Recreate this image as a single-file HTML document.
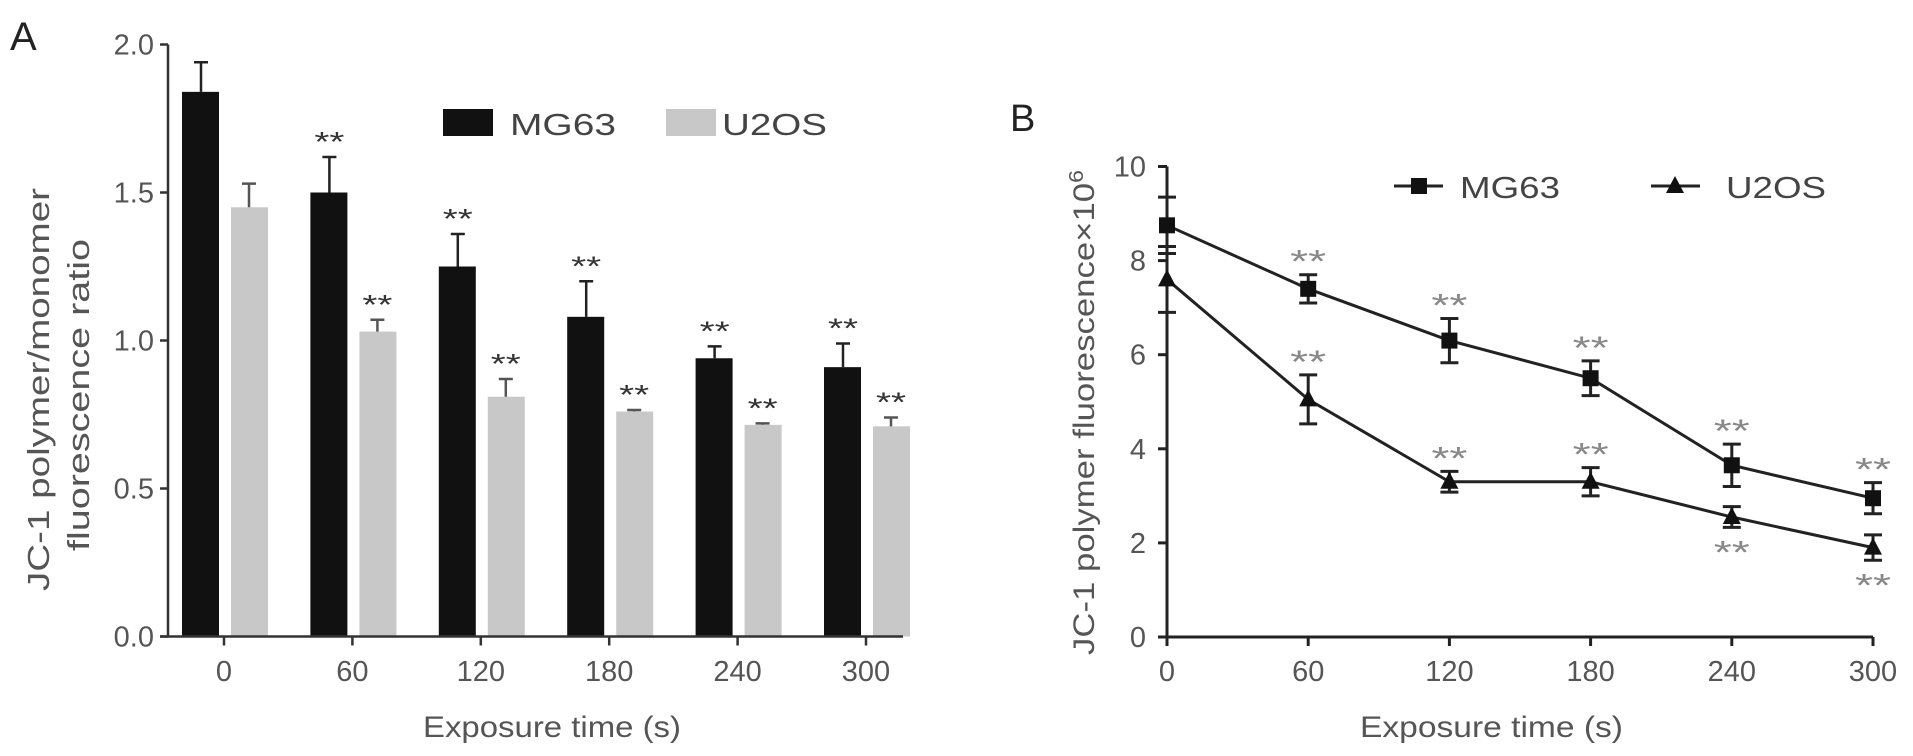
<!DOCTYPE html>
<html><head><meta charset="utf-8"><style>
html,body{margin:0;padding:0;background:#fff;}
svg{display:block;font-family:"Liberation Sans",sans-serif;}
</style></head><body>
<svg id="fig" width="1913" height="756" viewBox="0 0 1913 756"></svg>
<script>
// Panel A data
const catsA = [0, 60, 120, 180, 240, 300];
const mgA = [1.84, 1.50, 1.25, 1.08, 0.94, 0.91];
const mgAErr = [0.10, 0.12, 0.11, 0.12, 0.04, 0.08];
const uA = [1.45, 1.03, 0.81, 0.76, 0.715, 0.71];
const uAErr = [0.08, 0.04, 0.06, 0.005, 0.005, 0.03];
const yTicksA = [0, 0.5, 1.0, 1.5, 2.0];
const yTickLabelsA = ["0.0", "0.5", "1.0", "1.5", "2.0"];
const mgAStars = [false, true, true, true, true, true];
const uAStars = [false, true, true, true, true, true];
// Panel B data
const catsB = [0, 60, 120, 180, 240, 300];
const mgB = [8.75, 7.4, 6.3, 5.5, 3.65, 2.95];
const mgBErr = [0.6, 0.3, 0.47, 0.37, 0.45, 0.33];
const uB = [7.6, 5.05, 3.3, 3.3, 2.55, 1.9];
const uBErr = [0.7, 0.52, 0.22, 0.3, 0.22, 0.27];
const yTicksB = [0, 2, 4, 6, 8, 10];
const mgBStars = [false, true, true, true, true, true];
const uBStarsPos = ["", "above", "above", "above", "below", "below"];

const NS = "http://www.w3.org/2000/svg";
const svg = document.getElementById('fig');
function mk(tag, attrs, parent, text) {
  const e = document.createElementNS(NS, tag);
  for (const k in attrs) e.setAttribute(k, attrs[k]);
  if (text !== undefined) e.textContent = text;
  (parent || svg).appendChild(e);
  return e;
}
const AX = '#333';
// ---------- Panel A ----------
const gA = mk('g', {});


const xA = v => 224 + v / 60 * 128.4;
const yA = v => 636.5 - v * 296;
let t = mk('text', {x: 10, y: 50, 'font-size': 40, fill: '#222'}, gA, 'A');
 
catsA.forEach((c, i) => {
  const cx = xA(c);
  let top = yA(mgA[i]);
  let r = mk('rect', {x: cx - 42, y: top, width: 37, height: yA(0) - top, fill: '#111'}, gA);
   
  let et = yA(mgA[i] + mgAErr[i]);
  let l = mk('path', {d: `M${cx-23} ${top}V${et}M${cx-30} ${et}H${cx-16}`, stroke: '#222', 'stroke-width': 2.5, fill: 'none'}, gA);
   
  if (mgAStars[i]) { let s = mk('text', {x: cx - 38, y: et - 6, 'font-size': 28, textLength: 30, lengthAdjust: 'spacingAndGlyphs', fill: '#333'}, gA, '**');
      }
  top = yA(uA[i]);
  r = mk('rect', {x: cx + 7, y: top, width: 37, height: yA(0) - top, fill: '#c8c8c8'}, gA);
   
  et = yA(uA[i] + uAErr[i]);
  l = mk('path', {d: `M${cx+25} ${top}V${et}M${cx+18} ${et}H${cx+32}`, stroke: '#555', 'stroke-width': 2.5, fill: 'none'}, gA);
   
  if (uAStars[i]) { let s = mk('text', {x: cx + 10, y: et - 6, 'font-size': 28, textLength: 30, lengthAdjust: 'spacingAndGlyphs', fill: '#333'}, gA, '**');
      }
});
let a = mk('path', {d: `M168 ${yA(2)}V${yA(0)}M160 ${yA(0)}H903`, stroke: AX, 'stroke-width': 2.5, fill: 'none'}, gA);
 
yTicksA.forEach((v, i) => {
  mk('line', {x1: 160, x2: 168, y1: yA(v), y2: yA(v), stroke: AX, 'stroke-width': 2.5}, gA);
  const tx = mk('text', {x: 154, y: yA(v) + 10, 'font-size': 29, 'text-anchor': 'end', fill: '#555'}, gA, yTickLabelsA[i]);
   
});
catsA.forEach(c => {
  mk('line', {x1: xA(c), x2: xA(c), y1: yA(0), y2: yA(0) + 9, stroke: AX, 'stroke-width': 2.5}, gA);
  const tx = mk('text', {x: xA(c), y: 681, 'font-size': 29, 'text-anchor': 'middle', fill: '#555'}, gA, String(c));
   
});
t = mk('text', {x: 423, y: 737, 'font-size': 30, textLength: 258, lengthAdjust: 'spacingAndGlyphs', fill: '#555'}, gA, 'Exposure time (s)');
 
t = mk('text', {transform: 'translate(49,591) rotate(-90)', 'font-size': 31, textLength: 403, lengthAdjust: 'spacingAndGlyphs', fill: '#555'}, gA, 'JC-1 polymer/monomer');
 
t = mk('text', {transform: 'translate(89,551) rotate(-90)', 'font-size': 31, textLength: 312, lengthAdjust: 'spacingAndGlyphs', fill: '#555'}, gA, 'fluorescence ratio');
 
let lg = mk('g', {}, gA);  
mk('rect', {x: 443, y: 109, width: 50, height: 27, fill: '#111'}, lg);
mk('text', {x: 510, y: 135, 'font-size': 31, textLength: 106, lengthAdjust: 'spacingAndGlyphs', fill: '#444'}, lg, 'MG63');
mk('rect', {x: 666, y: 109, width: 50, height: 27, fill: '#c8c8c8'}, lg);
mk('text', {x: 722, y: 135, 'font-size': 31, textLength: 105, lengthAdjust: 'spacingAndGlyphs', fill: '#444'}, lg, 'U2OS');

// ---------- Panel B ----------
const gB = mk('g', {});


const xB = v => 1167 + v / 60 * 141.2;
const yB = v => 637 - v * 47.05;
t = mk('text', {x: 1010, y: 131, 'font-size': 38, fill: '#222'}, gB, 'B');
 
a = mk('path', {d: `M1167 ${yB(10)}V${yB(0)}H${xB(300)}`, stroke: '#222', 'stroke-width': 3, fill: 'none'}, gB);
 
yTicksB.forEach(v => {
  mk('line', {x1: 1158, x2: 1167, y1: yB(v), y2: yB(v), stroke: '#222', 'stroke-width': 3}, gB);
  const tx = mk('text', {x: 1146, y: yB(v) + 10, 'font-size': 29, 'text-anchor': 'end', fill: '#555'}, gB, String(v));
   
});
catsB.forEach(c => {
  mk('line', {x1: xB(c), x2: xB(c), y1: yB(0), y2: yB(0) + 9, stroke: '#222', 'stroke-width': 3}, gB);
  const tx = mk('text', {x: xB(c), y: 681, 'font-size': 29, 'text-anchor': 'middle', fill: '#555'}, gB, String(c));
   
});
t = mk('text', {x: 1360, y: 737, 'font-size': 30, textLength: 263, lengthAdjust: 'spacingAndGlyphs', fill: '#555'}, gB, 'Exposure time (s)');
 
t = mk('text', {transform: 'translate(1094,655) rotate(-90)', 'font-size': 30, textLength: 485, lengthAdjust: 'spacingAndGlyphs', fill: '#555'}, gB);
 
t.appendChild(document.createTextNode('JC-1 polymer fluorescence×10'));
mk('tspan', {dy: -11, 'font-size': 20}, t, '6');

function series(vals, errs, name, marker) {
  const g = mk('g', {}, gB);
   
  const d = vals.map((v, i) => (i ? 'L' : 'M') + xB(catsB[i]) + ' ' + yB(v)).join('');
  const p = mk('path', {d, stroke: '#222', 'stroke-width': 3, fill: 'none'}, g);
   
  vals.forEach((v, i) => {
    const x = xB(catsB[i]), y1 = yB(v + errs[i]), y2 = yB(v - errs[i]);
    const e = mk('path', {d: `M${x} ${y1}V${y2}M${x-9} ${y1}H${x+9}M${x-9} ${y2}H${x+9}`, stroke: '#222', 'stroke-width': 3, fill: 'none'}, g);
     
    const y = yB(v);
    let m;
    if (marker === 'square') m = mk('rect', {x: x - 8, y: y - 8, width: 16, height: 16, fill: '#111'}, g);
    else m = mk('path', {d: `M${x} ${y-10}L${x+9} ${y+7}L${x-9} ${y+7}Z`, fill: '#111'}, g);
     
  });
}
series(mgB, mgBErr, 'mg63', 'square');
series(uB, uBErr, 'u2os', 'triangle');
catsB.forEach((c, i) => {
  if (mgBStars[i]) { const s = mk('text', {x: xB(c) - 18, y: yB(mgB[i] + mgBErr[i]) - 2, 'font-size': 32, textLength: 36, lengthAdjust: 'spacingAndGlyphs', fill: '#888'}, gB, '**');
      }
  if (uBStarsPos[i]) {
    const y = uBStarsPos[i] === 'above' ? yB(uB[i] + uBErr[i]) - 2 : yB(uB[i] - uBErr[i]) + 36;
    const s = mk('text', {x: xB(c) - 18, y, 'font-size': 32, textLength: 36, lengthAdjust: 'spacingAndGlyphs', fill: '#888'}, gB, '**');
     
  }
});
lg = mk('g', {}, gB);  
mk('line', {x1: 1394, x2: 1443, y1: 186, y2: 186, stroke: '#222', 'stroke-width': 3}, lg);
mk('rect', {x: 1411, y: 178, width: 16, height: 16, fill: '#111'}, lg);
mk('text', {x: 1460, y: 198, 'font-size': 31, textLength: 100, lengthAdjust: 'spacingAndGlyphs', fill: '#444'}, lg, 'MG63');
mk('line', {x1: 1651, x2: 1700, y1: 186, y2: 186, stroke: '#222', 'stroke-width': 3}, lg);
mk('path', {d: 'M1675 176L1684 193L1666 193Z', fill: '#111'}, lg);
mk('text', {x: 1726, y: 198, 'font-size': 31, textLength: 100, lengthAdjust: 'spacingAndGlyphs', fill: '#444'}, lg, 'U2OS');
</script>
</body></html>
